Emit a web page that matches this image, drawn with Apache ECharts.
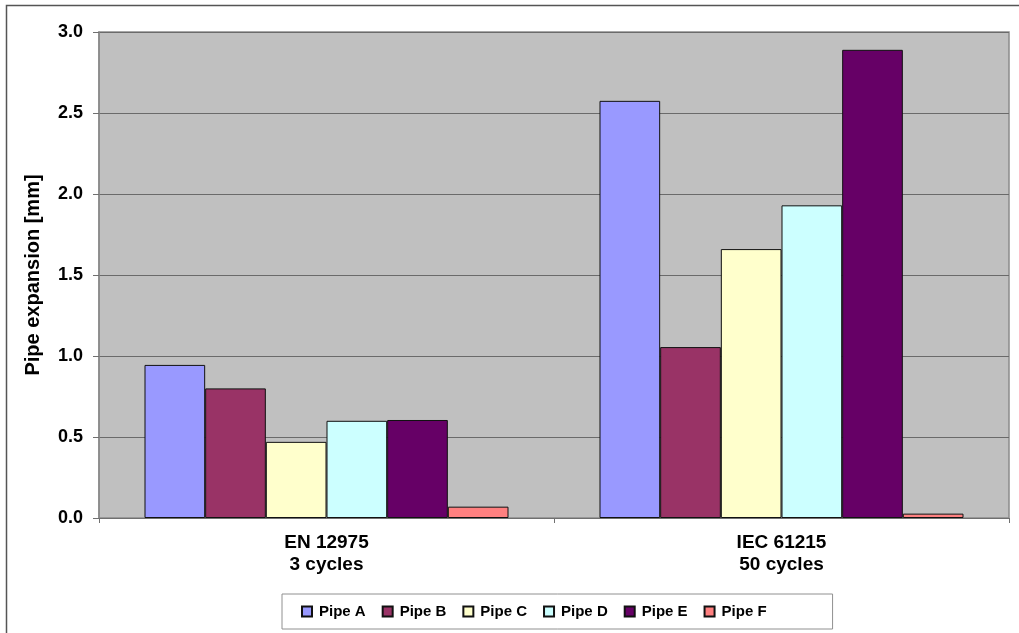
<!DOCTYPE html>
<html>
<head>
<meta charset="utf-8">
<script src="https://cdn.jsdelivr.net/npm/echarts@6/dist/echarts.min.js"></script>
<style>
  html, body { margin: 0; padding: 0; background: #fff; }
  #chart { width: 1019px; height: 633px; }
</style>
</head>
<body>
<div id="chart"></div>
<script>
// Test standards (category axis)
const categories = ['EN 12975\n3 cycles', 'IEC 61215\n50 cycles'];

// Pipe expansion in mm per pipe
const pipeA = [0.945, 2.575];
const pipeB = [0.80, 1.055];
const pipeC = [0.47, 1.66];
const pipeD = [0.60, 1.93];
const pipeE = [0.605, 2.89];
const pipeF = [0.07, 0.027];

const seriesNames = ['Pipe A', 'Pipe B', 'Pipe C', 'Pipe D', 'Pipe E', 'Pipe F'];
const seriesValues = [pipeA, pipeB, pipeC, pipeD, pipeE, pipeF];
const seriesColors = ['#9999FF', '#993366', '#FFFFCC', '#CCFFFF', '#660066', '#FF8080'];

const font = 'Arial, "Liberation Sans", sans-serif';

const chart = echarts.init(document.getElementById('chart'), null, { renderer: 'canvas' });

chart.setOption({
  animation: false,
  backgroundColor: '#ffffff',
  textStyle: { fontFamily: font },
  graphic: [{
    type: 'rect',
    silent: true,
    shape: { x: 6.5, y: 5.5, width: 1200, height: 1000 },
    style: { fill: 'none', stroke: '#555555', lineWidth: 1.5 }
  }],
  grid: {
    left: 99, top: 32, right: 10, bottom: 115,
    show: true,
    backgroundColor: '#C0C0C0',
    borderColor: '#8a8a8a',
    borderWidth: 1.5
  },
  legend: {
    data: seriesNames,
    left: 282,
    top: 594,
    orient: 'horizontal',
    borderColor: '#909090',
    borderWidth: 1,
    padding: [10, 66, 10, 19],
    itemWidth: 10,
    itemHeight: 10,
    itemGap: 16,
    icon: 'rect',
    textStyle: { fontFamily: font, fontSize: 15, fontWeight: 'bold', color: '#000', padding: [0, 0, 0, 2] }
  },
  xAxis: {
    type: 'category',
    data: categories,
    axisLine: { lineStyle: { color: '#707070', width: 1 } },
    axisTick: { show: true, length: 5, lineStyle: { color: '#707070' } },
    axisLabel: {
      color: '#000', fontFamily: font, fontSize: 19, fontWeight: 'bold',
      lineHeight: 22, margin: 14
    }
  },
  yAxis: {
    type: 'value',
    min: 0, max: 3, interval: 0.5,
    name: 'Pipe expansion [mm]',
    nameLocation: 'middle',
    nameGap: 56,
    nameTextStyle: { color: '#000', fontFamily: font, fontSize: 20, fontWeight: 'bold' },
    axisLine: { show: true, lineStyle: { color: '#8a8a8a', width: 1.5 } },
    axisTick: { show: true, length: 6, lineStyle: { color: '#707070' } },
    axisLabel: {
      color: '#000', fontFamily: font, fontSize: 18, fontWeight: 'bold', margin: 16,
      formatter: v => v.toFixed(1)
    },
    splitLine: { show: true, lineStyle: { color: '#6a6a6a', width: 1 } }
  },
  series: seriesNames.map((name, i) => ({
    name,
    type: 'bar',
    data: seriesValues[i],
    barGap: '0%',
    barCategoryGap: '20%',
    itemStyle: { color: seriesColors[i], borderColor: '#111', borderWidth: 1 }
  }))
});
</script>
</body>
</html>
